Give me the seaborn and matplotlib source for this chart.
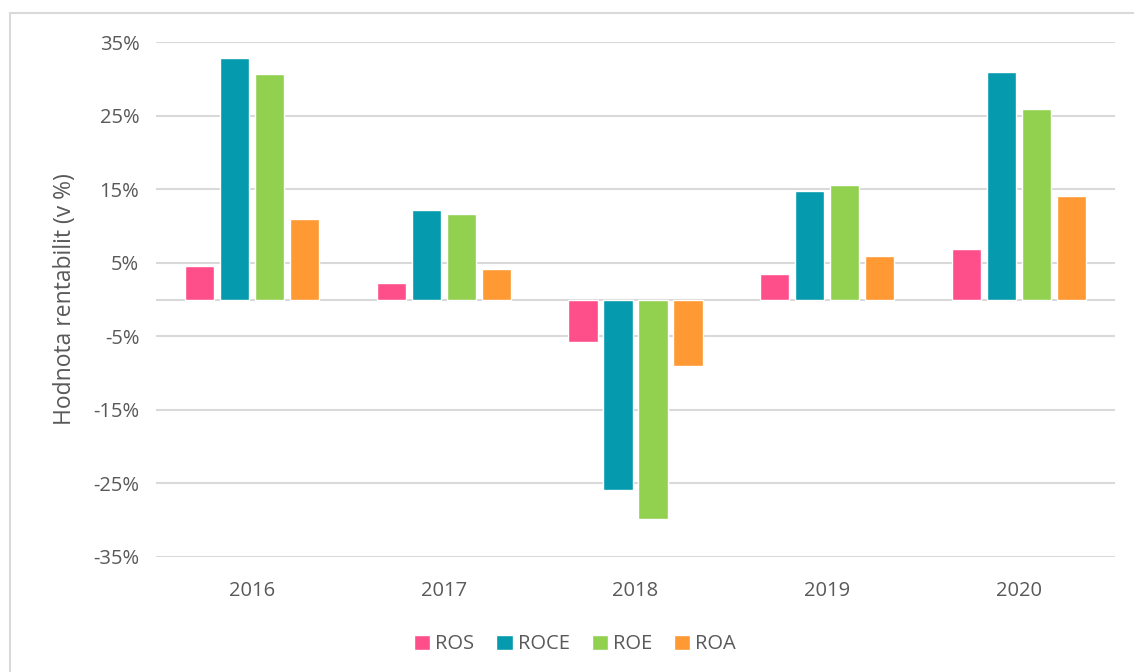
import pandas as pd
import numpy as np
import matplotlib
matplotlib.use("Agg")
import matplotlib.pyplot as plt
import seaborn as sns
from matplotlib.patches import Rectangle
from matplotlib.ticker import FuncFormatter

# Data (hodnoty v %)
years = ['2016', '2017', '2018', '2019', '2020']
ros = [4.6, 2.2, -5.8, 3.4, 6.9]
roce = [32.8, 12.2, -25.9, 14.8, 30.9]
roe = [30.7, 11.6, -29.8, 15.5, 25.9]
roa = [10.9, 4.2, -9.1, 5.9, 14.1]
metrics = ['ROS', 'ROCE', 'ROE', 'ROA']
colors = ['#FF4F8B', '#069AAE', '#92D050', '#FF9933']

df = pd.DataFrame({'rok': years, 'ROS': ros, 'ROCE': roce, 'ROE': roe, 'ROA': roa})
df = df.melt(id_vars='rok', var_name='ukazatel', value_name='hodnota')

sns.set_style('white')
plt.rcParams['font.family'] = ['Open Sans', 'DejaVu Sans']
gray = '#595959'

fig = plt.figure(figsize=(11.34, 6.72), dpi=100)
ax = fig.add_axes([156/1134, 1-557/672, (1115-156)/1134, (557-42)/672])

sns.barplot(data=df, x='rok', y='hodnota', hue='ukazatel', hue_order=metrics,
            palette=colors, width=0.73, gap=0.17, saturation=1, ax=ax, zorder=3)

ax.set_ylim(-35, 35)
ax.set_yticks([-35, -25, -15, -5, 5, 15, 25, 35])
ax.yaxis.set_major_formatter(FuncFormatter(lambda v, p: f'{v:.0f}%'))
ax.grid(axis='y', color='#D9D9D9', linewidth=1.5, zorder=0)
ax.axhline(0, color='#D9D9D9', linewidth=1.5, zorder=1)
for s in ax.spines.values():
    s.set_visible(False)
ax.tick_params(axis='both', length=0, labelsize=14.5, labelcolor=gray, pad=12)
ax.tick_params(axis='x', pad=17)
ax.set_xlabel('')
ax.set_ylabel('Hodnota rentabilit (v %)', fontsize=16.5, color=gray, labelpad=12)

ax.legend(loc='upper center', bbox_to_anchor=(0.437, -0.115), ncol=4, frameon=False,
          fontsize=14.5, labelcolor=gray, handlelength=0.8, handleheight=0.8,
          handletextpad=0.25, columnspacing=1.1)

# Ramecek kolem grafu
fig.patches.append(Rectangle((10/1134, -0.05), 1.2, 1-13/672+0.05,
                             transform=fig.transFigure, fill=False,
                             edgecolor='#D9D9D9', linewidth=1.5))

fig.savefig('out.png', dpi=100)
